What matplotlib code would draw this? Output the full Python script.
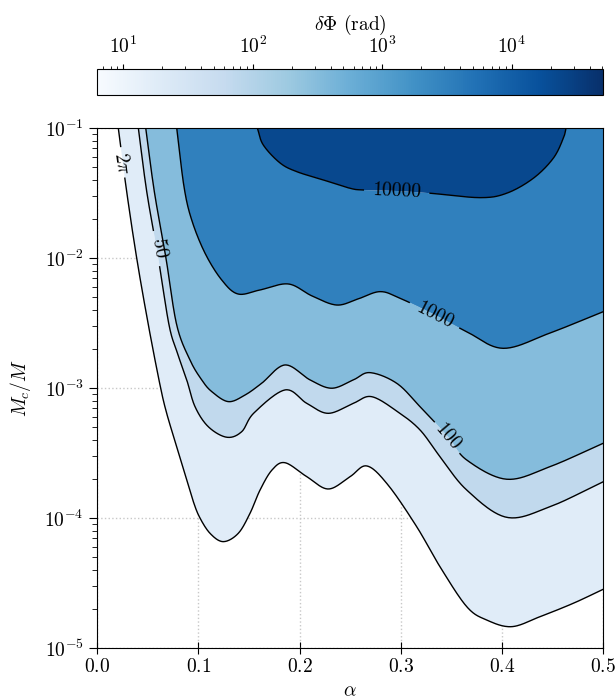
import numpy as np
import matplotlib
matplotlib.use('Agg')
import matplotlib.pyplot as plt
from matplotlib.colors import LogNorm
from matplotlib.cm import ScalarMappable

plt.rcParams['font.family'] = 'cmr10'
plt.rcParams['mathtext.fontset'] = 'cm'
plt.rcParams['axes.formatter.use_mathtext'] = True
plt.rcParams['font.size'] = 14

# dephasing levels (rad) and the maximum of the map
levels = [2 * np.pi, 50, 100, 1000, 10000]
level_names = [r'$2\pi$', '50', '100', '1000', '10000']
phase_max = 5.08e4

# contour lines: alpha and log10(M_c/M)
a_2pi = [0.0210, 0.0293, 0.0392, 0.0507, 0.0622, 0.0688, 0.0787, 0.0886, 0.0945, 0.1010,
         0.1116, 0.1247, 0.1395, 0.1511, 0.1610, 0.1728, 0.1857, 0.2071, 0.2284, 0.2499,
         0.2666, 0.2874, 0.3157, 0.3387, 0.3651, 0.3849, 0.4095, 0.4375, 0.4704, 0.5000]
y_2pi = [-1.000, -1.490, -2.002, -2.515, -2.977, -3.195, -3.452, -3.708, -3.860, -3.990,
         -4.118, -4.182, -4.118, -3.964, -3.785, -3.631, -3.575, -3.682, -3.777, -3.682,
         -3.600, -3.746, -4.067, -4.375, -4.682, -4.785, -4.836, -4.759, -4.656, -4.548]

a_50 = [0.0408, 0.0491, 0.0605, 0.0711, 0.0790, 0.0886, 0.0968, 0.1099, 0.1281, 0.1429,
        0.1550, 0.1857, 0.2071, 0.2284, 0.2531, 0.2713, 0.2973, 0.3190, 0.3387, 0.3651,
        0.4046, 0.4474, 0.5000]
y_50 = [-1.000, -1.490, -2.002, -2.515, -2.723, -2.938, -3.144, -3.298, -3.379, -3.336,
        -3.192, -3.015, -3.118, -3.195, -3.118, -3.067, -3.185, -3.323, -3.528, -3.785,
        -3.995, -3.913, -3.721]

a_100 = [0.0481, 0.0566, 0.0681, 0.0787, 0.0918, 0.1034, 0.1133, 0.1297, 0.1462, 0.1626,
         0.1857, 0.2104, 0.2318, 0.2531, 0.2696, 0.2960, 0.3190, 0.3466, 0.3651, 0.4046,
         0.4474, 0.5000]
y_100 = [-1.000, -1.490, -2.002, -2.515, -2.785, -2.938, -3.028, -3.105, -3.054, -2.964,
         -2.823, -2.938, -3.002, -2.938, -2.882, -2.964, -3.144, -3.375, -3.554, -3.702,
         -3.605, -3.425]

a_1000 = [0.0787, 0.0859, 0.0935, 0.1067, 0.1231, 0.1392, 0.1610, 0.1889, 0.2123, 0.2367,
          0.2578, 0.2795, 0.2992, 0.3338, 0.3651, 0.4012, 0.4474, 0.5000]
y_1000 = [-1.000, -1.452, -1.708, -1.964, -2.169, -2.277, -2.246, -2.200, -2.292, -2.362,
          -2.315, -2.259, -2.310, -2.438, -2.567, -2.695, -2.577, -2.413]

a_10000 = [0.1583, 0.1642, 0.1807, 0.1972, 0.2235, 0.2499, 0.2630, 0.2960, 0.3289, 0.3782,
           0.4046, 0.4309, 0.4506, 0.4605, 0.4632]
y_10000 = [-1.000, -1.131, -1.269, -1.336, -1.400, -1.464, -1.477, -1.485, -1.502, -1.536,
           -1.502, -1.387, -1.233, -1.079, -1.000]

curves = [(a_2pi, y_2pi), (a_50, y_50), (a_100, y_100), (a_1000, y_1000), (a_10000, y_10000)]

# where the inline labels sit (alpha, log10 M_c/M) and how wide a gap they cut
label_pos = [(0.0243, -1.27), (0.0605, -1.93), (0.3466, -3.375), (0.3338, -2.438), (0.2960, -1.485)]
label_gap = [15, 17, 20, 28, 33]

SX, SY = 1012.6, 130.0  # pixels per unit alpha / per decade


def spline(xs, ys, n=24):
    # Catmull-Rom through the read points, done in screen-like units
    p = np.column_stack([np.asarray(xs) * SX, np.asarray(ys) * SY])
    p = np.vstack([2 * p[0] - p[1], p, 2 * p[-1] - p[-2]])
    t = np.linspace(0, 1, n, endpoint=False)[:, None]
    out = []
    for i in range(1, len(p) - 2):
        p0, p1, p2, p3 = p[i - 1], p[i], p[i + 1], p[i + 2]
        out.append(0.5 * (2 * p1 + (p2 - p0) * t + (2 * p0 - 5 * p1 + 4 * p2 - p3) * t ** 2
                          + (3 * p1 - p0 - 3 * p2 + p3) * t ** 3))
    out.append(p[-2][None])
    out = np.vstack(out)
    return out[:, 0] / SX, out[:, 1] / SY


smooth = [spline(a, y) for a, y in curves]

cmap = plt.get_cmap('Blues')
norm = LogNorm(vmin=levels[0], vmax=phase_max)
bounds = levels + [phase_max]
band_colors = [cmap(norm(np.sqrt(bounds[i] * bounds[i + 1]))) for i in range(len(levels))]

fig = plt.figure(figsize=(6.16, 7.0), dpi=100)
ax = fig.add_axes([0.1575, 0.0743, 0.8219, 0.7429])
cax = fig.add_axes([0.1575, 0.8643, 0.8219, 0.0371])

ax.set_yscale('log')
ax.set_xlim(0, 0.5)
ax.set_ylim(1e-5, 1e-1)

# filled bands between neighbouring contour lines
for i in range(3):
    xa, ya = smooth[i]
    xb, yb = smooth[i + 1]
    px = np.concatenate([xa, xb[::-1]])
    py = np.concatenate([ya, yb[::-1]])
    ax.fill(px, 10 ** py, color=band_colors[i], lw=0)
xa, ya = smooth[3]
xb, yb = smooth[4]
px = np.concatenate([xa, [0.5], xb[::-1]])
py = np.concatenate([ya, [-1.0], yb[::-1]])
ax.fill(px, 10 ** py, color=band_colors[3], lw=0)
ax.fill(xb, 10 ** yb, color=band_colors[4], lw=0)

# contour lines with gaps for the inline labels
for (xs, ys), (lx, ly), gap, name in zip(smooth, label_pos, label_gap, level_names):
    d = np.hypot((xs - lx) * SX, (ys - ly) * SY)
    yl = np.where(d < gap, np.nan, ys)
    ax.plot(xs, 10 ** yl, color='k', lw=1.0)
    k = np.argmin(d)
    k0, k1 = max(k - 3, 0), min(k + 3, len(xs) - 1)
    ang = np.degrees(np.arctan2((ys[k1] - ys[k0]) * SY, (xs[k1] - xs[k0]) * SX))
    if ang > 90:
        ang -= 180
    elif ang < -90:
        ang += 180
    ax.text(lx, 10 ** ly, name, rotation=ang, rotation_mode='anchor',
            ha='center', va='center', fontsize=14)

ax.set_axisbelow(True)
ax.grid(True, which='major', ls=':', color='#c8c8c8', lw=1.0)
ax.set_xticks(np.arange(0, 0.51, 0.1))
ax.tick_params(axis='x', direction='inout', length=8, top=False)
ax.tick_params(axis='y', which='major', direction='out', length=6, right=False)
ax.tick_params(axis='y', which='minor', direction='out', length=3.5, right=False)
ax.set_xlabel(r'$\alpha$', labelpad=4)
ax.set_ylabel(r'$M_c/M$', labelpad=8)

sm = ScalarMappable(norm=norm, cmap=cmap)
cb = fig.colorbar(sm, cax=cax, orientation='horizontal')
cax.xaxis.set_ticks_position('top')
cax.xaxis.set_label_position('top')
cax.tick_params(axis='x', which='major', pad=5)
cb.set_label(r'$\delta\Phi$ (rad)')

fig.savefig('out.png', dpi=100)
